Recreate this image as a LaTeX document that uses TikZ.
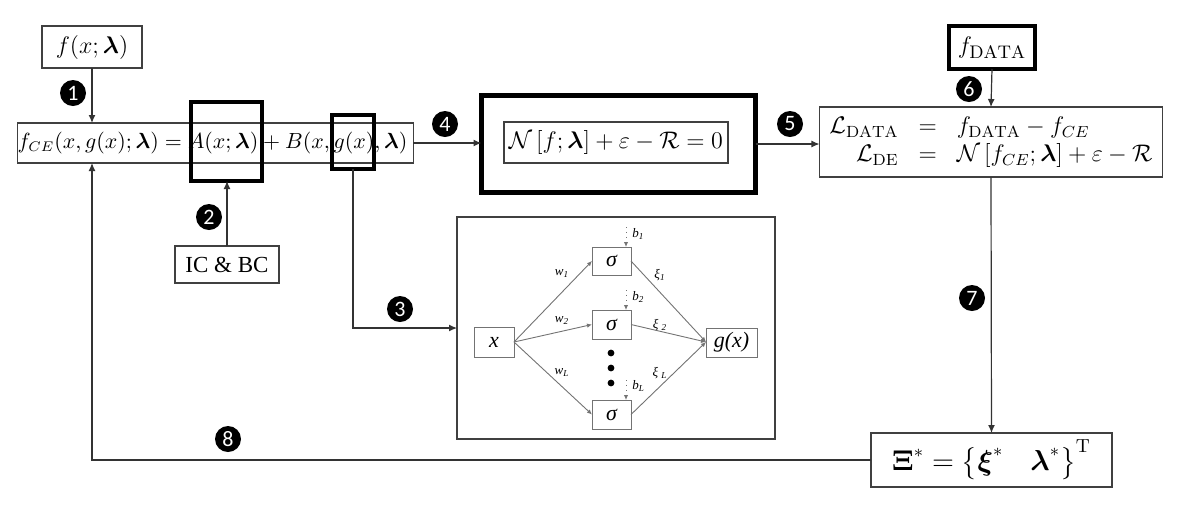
\documentclass[tikz,border=0pt]{standalone}
\usepackage{amsmath,amssymb}
\usepackage{fontspec}
\newfontfamily\nnfont{Liberation Serif}
\newfontfamily\bulfont{Carlito}
\usetikzlibrary{arrows.meta}
\begin{document}
\begin{tikzpicture}[x=0.5pt,y=-0.5pt,
  sz/.style 2 args={minimum width=#1*0.5pt, minimum height=#2*0.5pt, inner sep=0pt, outer sep=0pt},
  box/.style={draw=black!75, line width=0.7pt, fill=none},
  thickbox/.style={draw=black, line width=#1},
  mathtxt/.style={font=\fontsize{12.5}{15}\selectfont},
  arr/.style={draw=black!80, line width=0.6pt, -{Latex[length=4pt,width=3.5pt]}},
  ln/.style={draw=black!80, line width=0.6pt},
  bullet/.style={circle, fill=black, minimum size=13pt, inner sep=0pt, text=white, font=\bulfont\fontsize{11}{11}\selectfont},
  nnbox/.style={draw=black!55, line width=0.5pt, font=\nnfont\itshape\fontsize{11}{12}\selectfont},
  nnlab/.style={font=\nnfont\itshape\fontsize{6.5}{7}\selectfont, inner sep=0pt},
  nnarr/.style={draw=black!55, line width=0.45pt, -{Latex[length=2.5pt,width=2.2pt]}},
  barr/.style={draw=black!55, line width=0.45pt, dotted, -{Latex[length=2.5pt,width=2.2pt]}}
]
\useasboundingbox (0,0) rectangle (1196,511);

% top-left input
\node[box, sz={100}{42}, font=\fontsize{12.5}{15}\selectfont] (fx) at (92,47) {$f(x;\boldsymbol{\lambda})$};
% main constrained expression
\node[box, sz={395}{40}, font=\fontsize{10.6}{13}\selectfont] (main) at (215.5,143) {$f_{CE}(x,g(x);\boldsymbol{\lambda})=A(x;\boldsymbol{\lambda})+B(x,g(x),\boldsymbol{\lambda})$\hspace*{3pt}};
\node[thickbox=2pt, sz={71}{79}] (Abox) at (226.5,141.5) {};
\node[thickbox=2pt, sz={42}{54}] (gbox) at (353,142) {};
% IC & BC
\node[box, sz={104}{37}, font=\nnfont\fontsize{11.5}{13}\selectfont] (icbc) at (227,264.5) {IC \& BC};
% DE box
\node[thickbox=2.5pt, sz={274}{97}] (bigN) at (618.5,144) {};
\node[box, sz={224}{41}, mathtxt] (innerN) at (616,142.5) {$\mathcal{N}\left[f;\boldsymbol{\lambda}\right]+\varepsilon-\mathcal{R}=0$};
% losses
\node[box, sz={338}{70}, font=\fontsize{11.6}{14}\selectfont] (loss) at (991,142) {\arraycolsep=5pt$\begin{array}{rcl}
\mathcal{L}_{\mathrm{DATA}} & = & f_{\mathrm{DATA}}-f_{CE}\\
\mathcal{L}_{\mathrm{DE}} & = & \mathcal{N}\left[f_{CE};\boldsymbol{\lambda}\right]+\varepsilon-\mathcal{R}
\end{array}$};
\node[thickbox=2pt, sz={86}{43}, font=\fontsize{13}{15}\selectfont] (fdata) at (992,47.5) {$f_{\mathrm{DATA}}$};
% result
\node[box, sz={241}{54}, font=\fontsize{13.5}{16}\selectfont] (xi) at (991.5,460) {$\boldsymbol{\Xi}^{*}=\bigl\{\boldsymbol{\xi}^{*}\quad\boldsymbol{\lambda}^{*}\bigr\}^{\mathrm{T}}$};

% neural network panel
\node[box, sz={318}{222}] (NN) at (616,328) {};
\node[nnbox, sz={40}{30}] (xn) at (494,342) {x};
\node[nnbox, sz={39}{28}] (s1) at (611.5,261) {σ};
\node[nnbox, sz={39}{29}] (s2) at (611.5,324.5) {σ};
\node[nnbox, sz={39}{29}] (sL) at (611.5,414.5) {σ};
\node[nnbox, sz={51}{29}] (gn) at (731.5,342.5) {g(x)};
\coordinate (gin) at (706,342);
\foreach \yy in {353,368,383} \fill (611,\yy) circle (3.4);
\draw[nnarr] (xn.east) -- (s1.west);
\draw[nnarr] (xn.east) -- (s2.west);
\draw[nnarr] (xn.east) -- (sL.west);
\draw[nnarr] (s1.east) -- (gin);
\draw[nnarr] (s2.east) -- (gin);
\draw[nnarr] (sL.east) -- (gin);
\coordinate (b1t) at (626,227);
\coordinate (b2t) at (626,290);
\coordinate (bLt) at (626,380);
\draw[barr] (b1t) -- (b1t |- s1.north);
\draw[barr] (b2t) -- (b2t |- s2.north);
\draw[barr] (bLt) -- (bLt |- sL.north);
\node[nnlab, anchor=west] (lb1) at (632,234) {b\textsubscript{1}};
\node[nnlab, anchor=west] (lb2) at (632,297) {b\textsubscript{2}};
\node[nnlab, anchor=west] (lbL) at (632,386) {b\textsubscript{L}};
\node[nnlab] (lw1) at (562,274) {w\textsubscript{1}};
\node[nnlab] (lw2) at (562,321) {w\textsubscript{2}};
\node[nnlab] (lwL) at (562,373) {w\textsubscript{L}};
\node[nnlab] (lx1) at (660,275) {ξ\textsubscript{1}};
\node[nnlab] (lx2) at (660,325) {ξ \textsubscript{2}};
\node[nnlab] (lxL) at (660,373) {ξ \textsubscript{L}};

% connectors
\draw[arr] (fx.south) -- (fx.south |- main.north);
\draw[arr] (icbc.north) -- (icbc.north |- Abox.south);
\draw[arr] (gbox.south) |- (NN.west);
\draw[arr] (main.east) -- (main.east -| bigN.west);
\draw[arr] (bigN.east) -- (bigN.east -| loss.west);
\draw[arr] (fdata.south) -- (loss.north);
\draw[arr] (loss.south) -- (xi.north);
\coordinate (c8) at (92,460);
\draw[arr] (xi.west) -- (c8) -- (c8 |- main.south);

% step bullets
\node[bullet] (n1) at (73,93) {1};
\node[bullet] (n2) at (209,217) {2};
\node[bullet] (n3) at (400,309) {3};
\node[bullet] (n4) at (445,124) {4};
\node[bullet] (n5) at (790,124) {5};
\node[bullet] (n6) at (969,89) {6};
\node[bullet] (n7) at (972,298) {7};
\node[bullet] (n8) at (228,439) {8};
\end{tikzpicture}
\end{document}
